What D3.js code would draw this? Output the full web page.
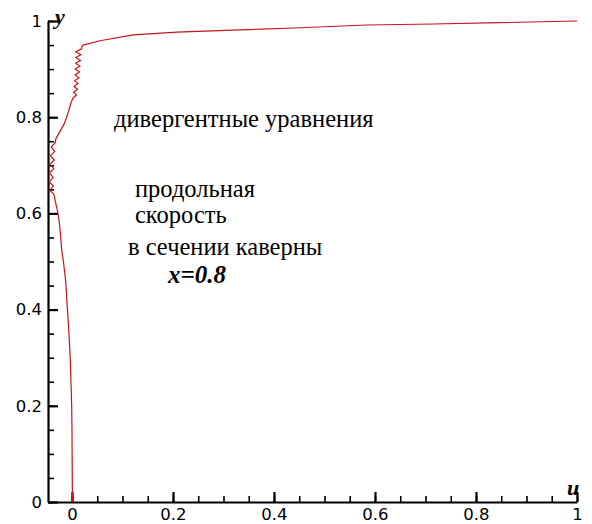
<!DOCTYPE html>
<html>
<head>
<meta charset="utf-8">
<script src="https://cdn.jsdelivr.net/npm/d3@7"></script>
<style>
  html, body { margin: 0; padding: 0; background: #fff; }
  svg { display: block; }
  .tick-label { font-family: "DejaVu Sans", Verdana, sans-serif; }
  .serif { font-family: "Liberation Serif", "Times New Roman", Times, serif; }
</style>
</head>
<body>
<svg id="chart" width="592" height="524"></svg>
<script>
// Longitudinal velocity profile u(y) in the cavity cross-section x = 0.8
const yValues = [
  0, 0.02, 0.06, 0.10, 0.15, 0.20, 0.25, 0.30, 0.35, 0.40, 0.46, 0.50, 0.524, 0.56, 0.586, 0.607, 0.625,
  0.640, 0.648, 0.657, 0.666, 0.675, 0.684, 0.693, 0.702, 0.711, 0.720, 0.729, 0.738, 0.747,
  0.755, 0.770, 0.785, 0.800, 0.815, 0.830,
  0.840, 0.846, 0.852, 0.858, 0.864, 0.870, 0.876, 0.882, 0.888, 0.894, 0.900, 0.906, 0.912,
  0.918, 0.924, 0.930, 0.936, 0.942, 0.948, 0.950,
  0.959, 0.971, 0.977, 0.981, 0.986, 0.9917, 0.9938, 0.9965, 1.0
];
const uValues = [
  0.001, 0.0008, 0.0005, 0.0003, 0.0, -0.0006, -0.002, -0.0035, -0.006, -0.009, -0.0125, -0.017, -0.0204, -0.023, -0.0257, -0.029, -0.033,
  -0.036, -0.044, -0.037, -0.045, -0.037, -0.045, -0.036, -0.044, -0.035, -0.043, -0.034, -0.041, -0.033,
  -0.032, -0.024, -0.016, -0.0105, -0.006, -0.002,
  0.002, 0.009, 0.003, 0.011, 0.004, 0.012, 0.005, 0.014, 0.006, 0.015, 0.006, 0.016, 0.007,
  0.017, 0.007, 0.018, 0.007, 0.019, 0.020, 0.0218,
  0.0554, 0.121, 0.208, 0.319, 0.4515, 0.584, 0.715, 0.8475, 1.0
];

const xMajorTicks = [0, 0.2, 0.4, 0.6, 0.8, 1];
const xMinorTicks = d3.range(0, 1.0001, 0.05);
const yMajorTicks = [0, 0.2, 0.4, 0.6, 0.8, 1];
const yMinorTicks = d3.range(0, 1.0001, 0.05);
const tickLabels = ["0", "0.2", "0.4", "0.6", "0.8", "1"];

const annotationLines = [
  { text: "дивергентные уравнения", x: 114, y: 127, bold: false },
  { text: "продольная", x: 135, y: 197, bold: false },
  { text: "скорость", x: 135, y: 223, bold: false },
  { text: "в сечении каверны", x: 128, y: 255, bold: false },
  { text: "x=0.8", x: 168, y: 283, bold: true }
];

const svg = d3.select("#chart");
const x = d3.scaleLinear().domain([-0.0475, 1]).range([48, 577]);
const y = d3.scaleLinear().domain([0, 1]).range([502, 21]);

const fmt = d => tickLabels[xMajorTicks.indexOf(d)] ?? d3.format("g")(d);

// minor ticks (pointing into the frame)
svg.append("g").attr("transform", `translate(0,${y(0)})`)
  .call(d3.axisBottom(x).tickValues(xMinorTicks).tickSizeInner(-6).tickSizeOuter(0).tickFormat(""))
  .call(g => g.select(".domain").remove())
  .call(g => g.selectAll("line").attr("stroke", "#000").attr("stroke-width", 1.6));
svg.append("g").attr("transform", `translate(${x.range()[0]},0)`)
  .call(d3.axisLeft(y).tickValues(yMinorTicks).tickSizeInner(-6).tickSizeOuter(0).tickFormat(""))
  .call(g => g.select(".domain").remove())
  .call(g => g.selectAll("line").attr("stroke", "#000").attr("stroke-width", 1.6));

// major ticks with labels
const xAxis = svg.append("g").attr("transform", `translate(0,${y(0)})`)
  .call(d3.axisBottom(x).tickValues(xMajorTicks).tickSizeInner(-10).tickSizeOuter(0).tickPadding(6).tickFormat(fmt));
const yAxis = svg.append("g").attr("transform", `translate(${x.range()[0]},0)`)
  .call(d3.axisLeft(y).tickValues(yMajorTicks).tickSizeInner(-10).tickSizeOuter(0).tickPadding(6).tickFormat(fmt));

[xAxis, yAxis].forEach(g => {
  g.attr("font-family", null).attr("font-size", null);
  g.select(".domain").attr("stroke", "#000").attr("stroke-width", 2.2);
  g.selectAll(".tick line").attr("stroke", "#000").attr("stroke-width", 2.2);
  g.selectAll(".tick text")
    .attr("class", "tick-label")
    .attr("fill", "#000")
    .attr("font-size", 16.5);
});

// axis titles
svg.append("text").attr("class", "serif").attr("x", 55).attr("y", 24).text("y")
  .attr("font-style", "italic").attr("font-weight", "bold").attr("font-size", 22);
svg.append("text").attr("class", "serif").attr("x", 567).attr("y", 495).text("u")
  .attr("font-style", "italic").attr("font-weight", "bold").attr("font-size", 22);

// profile curve
const pts = yValues.map((v, i) => [uValues[i], v]);
svg.append("path")
  .datum(pts)
  .attr("fill", "none")
  .attr("stroke", "#c8141e")
  .attr("stroke-width", 1.2)
  .attr("stroke-linejoin", "round")
  .attr("d", d3.line().x(d => x(d[0])).y(d => y(d[1])));

// annotation text
svg.selectAll("text.note")
  .data(annotationLines)
  .join("text")
  .attr("class", "note serif")
  .attr("x", d => d.x)
  .attr("y", d => d.y)
  .text(d => d.text)
  .attr("font-size", d => d.bold ? 25 : 24.5)
  .attr("font-weight", d => d.bold ? "bold" : "normal")
  .attr("font-style", d => d.bold ? "italic" : "normal")
  .attr("fill", "#000");
</script>
</body>
</html>
